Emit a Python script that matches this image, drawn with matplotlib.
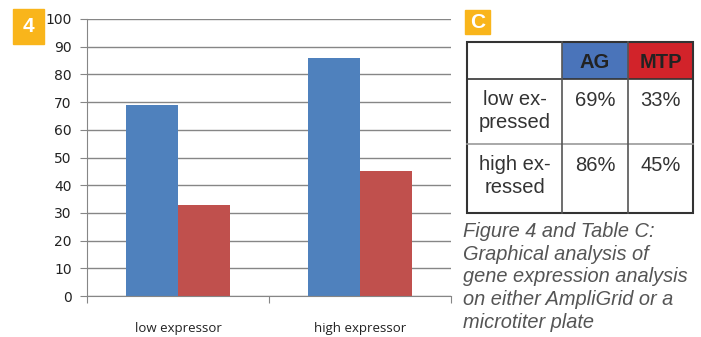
import matplotlib.pyplot as plt
from matplotlib.patches import Rectangle

categories = ['low expressor', 'high expressor']
ag_values = [69, 86]
mtp_values = [33, 45]
row_labels = ['low ex-\npressed', 'high ex-\nressed']
col_labels = ['AG', 'MTP']
caption = ('Figure 4 and Table C:\nGraphical analysis of\n'
           'gene expression analysis\non either AmpliGrid or a\n'
           'microtiter plate')

W, H = 701, 337
fig = plt.figure(figsize=(W / 100, H / 100), dpi=100)

# bar chart
ax = fig.add_axes([87 / W, (H - 296) / H, 364 / W, 277 / H])
xs = range(len(categories))
bw = 0.283
ax.bar([x - bw / 2 for x in xs], ag_values, width=bw, color='#4f81bd', zorder=2)
ax.bar([x + bw / 2 for x in xs], mtp_values, width=bw, color='#c0504d', zorder=2)
ax.set_xlim(-0.5, 1.5)
ax.set_ylim(0, 100)
ax.set_yticks(range(0, 101, 10))
ax.yaxis.grid(True, color='#868686', lw=1, zorder=1)
for s in ['top', 'right']:
    ax.spines[s].set_visible(False)
for s in ['left', 'bottom']:
    ax.spines[s].set_color('#868686')
ax.set_xticks([-0.5, 0.5, 1.5])
ax.set_xticklabels([])
ax.set_xticks(list(xs), minor=True)
ax.set_xticklabels(categories, minor=True, fontsize=9.5, color='#222222',
                   family='Open Sans')
ax.tick_params(axis='x', which='major', length=5, color='#868686')
ax.tick_params(axis='x', which='minor', length=0, pad=19)
ax.tick_params(axis='y', length=5, color='#868686', labelsize=10, pad=6,
               labelcolor='#222222')

# overlay in pixel coordinates
ov = fig.add_axes([0, 0, 1, 1])
ov.set_xlim(0, W)
ov.set_ylim(H, 0)
ov.axis('off')
ov.patch.set_alpha(0)

orange = '#f9b51b'
ov.add_patch(Rectangle((13, 9), 31, 35, color=orange))
ov.text(28.5, 27, '4', color='white', fontsize=15, fontweight='bold',
        ha='center', va='center', family='Liberation Sans')
ov.add_patch(Rectangle((465, 10), 25, 24, color=orange))
ov.text(477.5, 22.5, 'C', color='white', fontsize=15, fontweight='bold',
        ha='center', va='center', family='Liberation Sans')

# table
xb = [467, 562, 628, 693]
yb = [42, 79, 144, 213]
ov.add_patch(Rectangle((xb[1], yb[0]), xb[2] - xb[1], yb[1] - yb[0],
                       color='#4a74ba', lw=0))
ov.add_patch(Rectangle((xb[2], yb[0]), xb[3] - xb[2], yb[1] - yb[0],
                       color='#d2232a', lw=0))
for j, lab in enumerate(col_labels):
    ov.text((xb[j + 1] + xb[j + 2]) / 2, 62, lab, fontsize=14.5,
            fontweight='bold', ha='center', va='center', color='#222222',
            family='Liberation Sans')
table_vals = [[ag_values[i], mtp_values[i]] for i in range(len(categories))]
for i, lab in enumerate(row_labels):
    top = yb[i + 1] + 11
    ov.text((xb[0] + xb[1]) / 2, top, lab, fontsize=14.5, ha='center',
            va='top', color='#333333', family='Liberation Sans',
            linespacing=1.25)
    for j, v in enumerate(table_vals[i]):
        ov.text((xb[j + 1] + xb[j + 2]) / 2, top + 1, f'{v}%', fontsize=14.5,
                ha='center', va='top', color='#333333',
                family='Liberation Sans')
# grid lines
ov.plot([xb[0], xb[3]], [yb[1], yb[1]], color='#333333', lw=1.2)
ov.plot([xb[0], xb[3]], [yb[2], yb[2]], color='#999999', lw=1.2)
for x in xb[1:3]:
    ov.plot([x, x], [yb[0], yb[3]], color='#555555', lw=1.2)
ov.add_patch(Rectangle((xb[0], yb[0]), xb[3] - xb[0], yb[3] - yb[0],
                       fill=False, ec='#333333', lw=1.5))

ov.text(463, 222, caption, fontsize=14.4, style='italic', ha='left', va='top',
        color='#555555', family='Liberation Sans', linespacing=1.25)

fig.savefig('out.png', dpi=100)
